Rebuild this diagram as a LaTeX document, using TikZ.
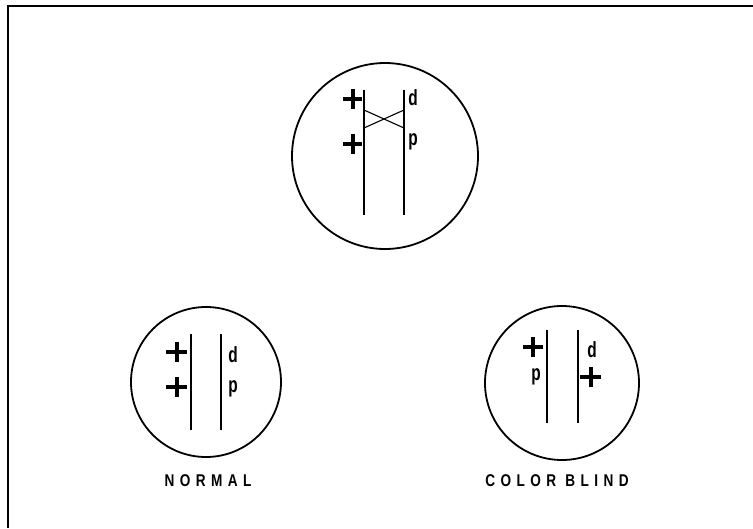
\documentclass[tikz,border=0pt]{standalone}
\usepackage{fontspec}
\setmainfont{Liberation Sans}
\newfontfamily\capsfont[LetterSpace=40]{Liberation Sans}
\usepackage{tikz}
\usetikzlibrary{calc}

\begin{document}
\begin{tikzpicture}[
			x=1pt, y=-1pt,
			lens/.style={circle, draw=black, line width=1.8pt, inner sep=0pt},
			hair/.style={line width=1.4pt},
			swap/.style={line width=1.1pt},
			plus/.style={line width=3.6pt},
			letter/.style={font=\fontsize{22}{22}\selectfont\bfseries, inner sep=0pt, xscale=0.7},
			caption/.style={font=\fontsize{17}{17}\selectfont\bfseries\capsfont, inner sep=0pt, xscale=0.8}
			]
			\useasboundingbox (0,0) rectangle (753,528);
			
			% --- Frame (only top and left edges survive) ---
			\coordinate (frame_tr) at (753,6);
			\coordinate (frame_tl) at (8,6);
			\coordinate (frame_bl) at (8,528);
			\draw[line width=2pt] (frame_tr) -- (frame_tl) -- (frame_bl);
			
			% --- Top field: mixed ---
			\node[lens, minimum size=186pt] (mixed) at (385,156) {};
			\coordinate (m_l_top) at (364,90);
			\coordinate (m_l_bot) at (364,215);
			\coordinate (m_r_top) at (404,90);
			\coordinate (m_r_bot) at (404,215);
			\draw[hair] (m_l_top) -- (m_l_bot);
			\draw[hair] (m_r_top) -- (m_r_bot);
			\draw[swap] ($(m_l_top)+(0,20)$) -- ($(m_r_top)+(0,38)$);
			\draw[swap] ($(m_l_top)+(0,38)$) -- ($(m_r_top)+(0,20)$);
			\draw[plus] (343,99) -- (362,99) (353,89) -- (353,109);
			\draw[plus] (343,144) -- (362,144) (353,134) -- (353,154);
			\node[letter] (m_d) at (413,98) {d};
			\node[letter] (m_p) at (413,142) {p};
			
			% --- Bottom left field: normal ---
			\node[lens, minimum size=150pt] (normal) at (206,382) {};
			\coordinate (n_l_top) at (191,334);
			\coordinate (n_l_bot) at (191,430);
			\coordinate (n_r_top) at (221,334);
			\coordinate (n_r_bot) at (221,430);
			\draw[hair] (n_l_top) -- (n_l_bot);
			\draw[hair] (n_r_top) -- (n_r_bot);
			\draw[plus] (166,352) -- (187,352) (177,342) -- (177,362);
			\draw[plus] (166,387) -- (187,387) (177,377) -- (177,397);
			\node[letter] (n_d) at (233,355) {d};
			\node[letter] (n_p) at (233,389) {p};
			\node[caption] (n_label) at (208,481) {NORMAL};
			
			% --- Bottom right field: color blind ---
			\node[lens, minimum size=154pt] (blind) at (562,383) {};
			\coordinate (b_l_top) at (547,330);
			\coordinate (b_l_bot) at (547,423);
			\coordinate (b_r_top) at (578,330);
			\coordinate (b_r_bot) at (578,423);
			\draw[hair] (b_l_top) -- (b_l_bot);
			\draw[hair] (b_r_top) -- (b_r_bot);
			\draw[plus] (523,347) -- (543,347) (533,337) -- (533,357);
			\draw[plus] (580,377) -- (601,377) (591,367) -- (591,387);
			\node[letter] (b_p) at (536,377) {p};
			\node[letter] (b_d) at (592,350) {d};
			\node[caption] (b_label) at (557,481) {COLOR BLIND};
			
			\end{tikzpicture}
\end{document}
